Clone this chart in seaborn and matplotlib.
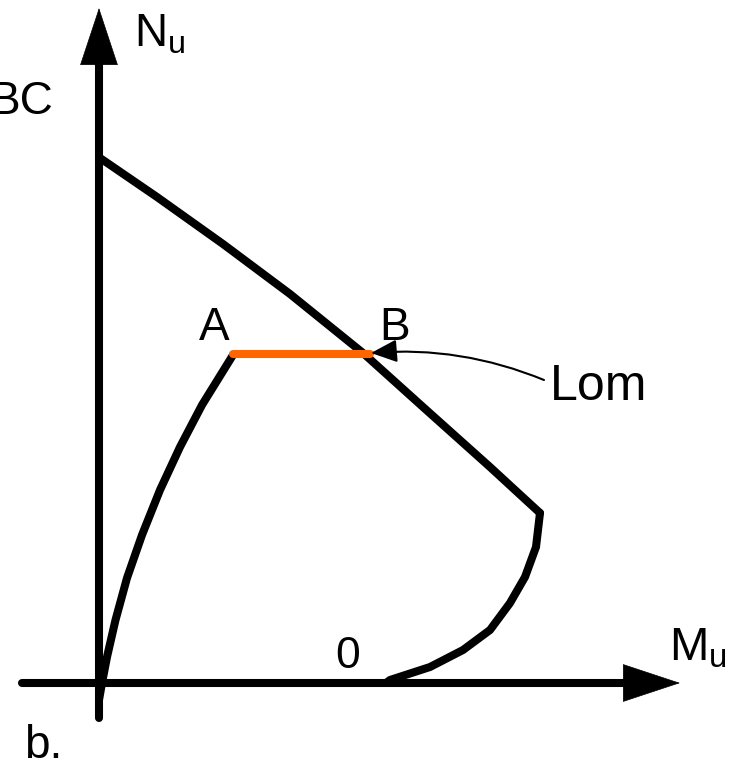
import pandas as pd
import seaborn as sns
import matplotlib.pyplot as plt

# diagram traced in picture coordinates (pixels, y downward)
upper_x = [100, 157, 223, 290, 363, 423, 490, 540]
upper_y = [158, 197, 244, 294, 353, 407, 467, 513]

right_x = [540, 536, 525, 510, 490, 463, 430, 390, 386]
right_y = [513, 547, 577, 603, 630, 650, 667, 680, 683]

left_x = [233, 202, 180, 160, 142, 127, 115.5, 107, 102, 99]
left_y = [355, 405, 447, 490, 535, 578, 620, 657, 683, 700]

ab_x = [233, 370]
ab_y = [354, 354]

labels = ['A', 'B', '0', 'Lom', 'BC', 'b.']
label_x = [199, 379, 335, 550, 53, 24]
label_y = [340, 340, 668, 400, 114, 758]
label_size = [33, 33, 32, 36, 33, 33]
label_ha = ['left', 'left', 'left', 'left', 'right', 'left']

sns.set_theme(style='white')
plt.rcParams['font.family'] = ['Liberation Sans', 'DejaVu Sans']
plt.rcParams['mathtext.fontset'] = 'custom'
plt.rcParams['mathtext.rm'] = 'Liberation Sans'

fig = plt.figure(figsize=(7.31, 7.68), dpi=100)
ax = fig.add_axes([0, 0, 1, 1])
ax.set_xlim(0, 731)
ax.set_ylim(768, 0)
ax.axis('off')

lw = 5.8
curves = [
    pd.DataFrame({'x': upper_x, 'y': upper_y}),
    pd.DataFrame({'x': right_x, 'y': right_y}),
    pd.DataFrame({'x': left_x, 'y': left_y}),
]
for df in curves:
    sns.lineplot(x='x', y='y', data=df, ax=ax, sort=False, color='black',
                 lw=lw, solid_capstyle='round', solid_joinstyle='round')

# axes arrows
head = dict(arrowstyle='-|>,head_length=1.6,head_width=0.53',
            color='black', lw=0.5, shrinkA=0, shrinkB=0, mutation_scale=25)
ax.plot([99, 99], [718, 60], color='black', lw=lw, solid_capstyle='round')
ax.annotate('', xy=(99, 8), xytext=(99, 66), arrowprops=head)
ax.plot([22, 630], [683, 683], color='black', lw=lw, solid_capstyle='round')
ax.annotate('', xy=(680, 683), xytext=(622, 683), arrowprops=head)

sns.lineplot(x=ab_x, y=ab_y, ax=ax, color='#ff6600', lw=lw,
             solid_capstyle='round')

# Lom pointer
ax.annotate('', xy=(371, 353), xytext=(544, 380),
            arrowprops=dict(arrowstyle='-|>,head_length=0.8,head_width=0.35',
                            color='black', lw=1.5, shrinkA=0, shrinkB=0,
                            mutation_scale=20,
                            connectionstyle='arc3,rad=0.12'))

for t, x, y, s, ha in zip(labels, label_x, label_y, label_size, label_ha):
    ax.text(x, y, t, fontsize=s, ha=ha, va='baseline', color='black')

ax.text(134, 47, r'$\mathregular{N_u}$', fontsize=33, ha='left',
        va='baseline', color='black')
ax.text(669, 660, r'$\mathregular{M_u}$', fontsize=34, ha='left',
        va='baseline', color='black')

fig.savefig('out.png', dpi=100)
